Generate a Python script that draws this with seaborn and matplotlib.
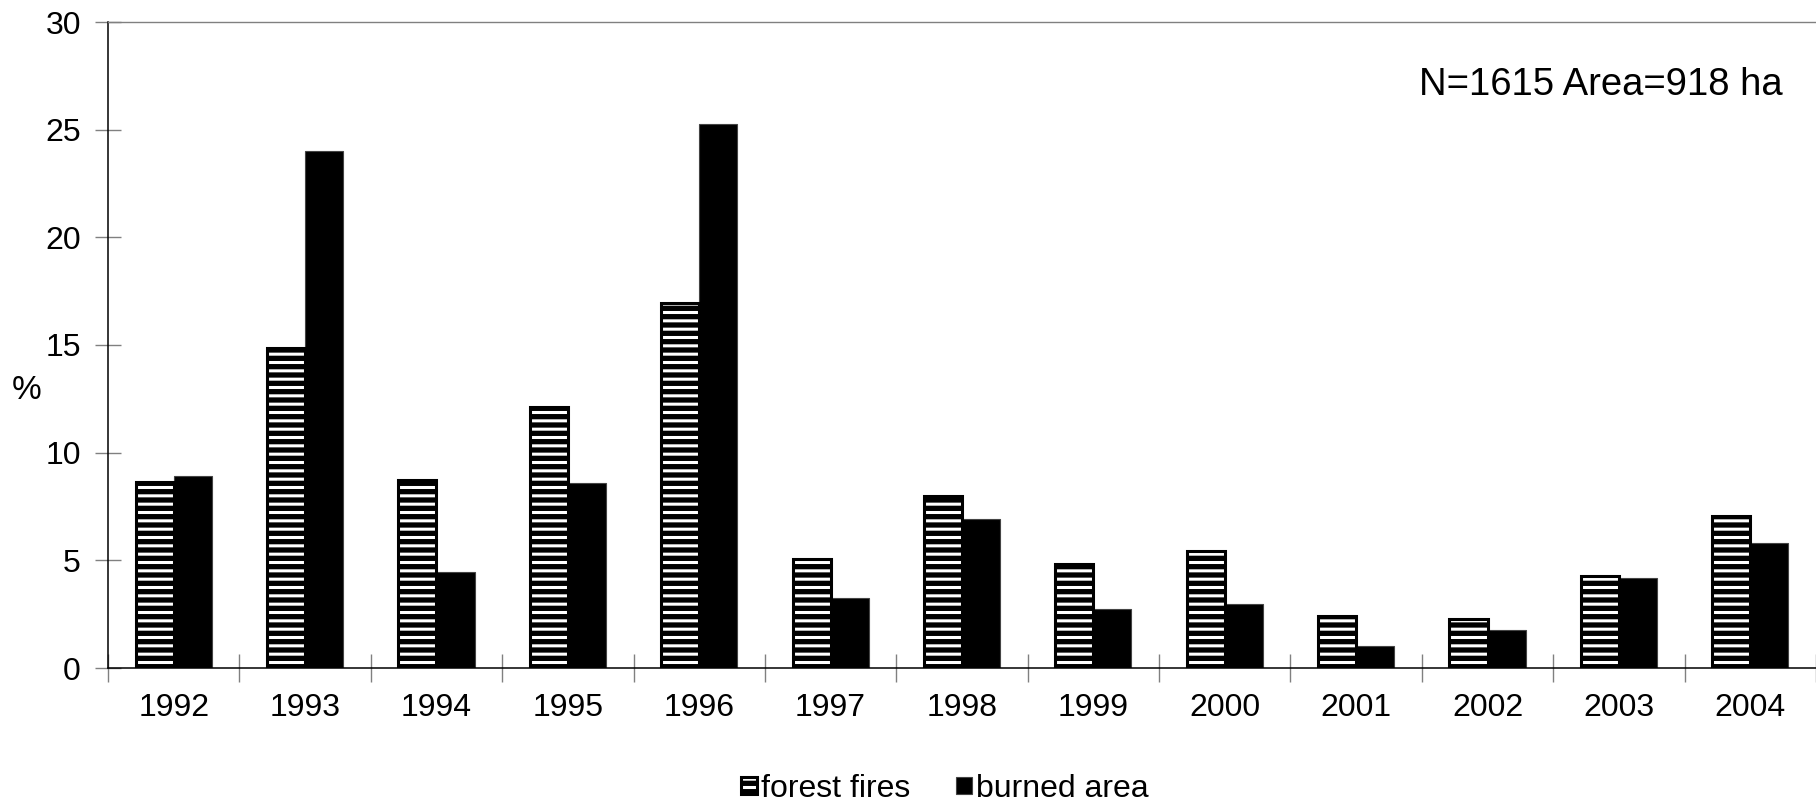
import matplotlib
matplotlib.use('Agg')
import matplotlib.pyplot as plt
import numpy as np
import pandas as pd
import seaborn as sns
from matplotlib.patches import Rectangle, Patch

# Data
years = ['1992', '1993', '1994', '1995', '1996', '1997', '1998',
         '1999', '2000', '2001', '2002', '2003', '2004']
forest_fires = [8.65, 14.84, 8.74, 12.12, 16.94, 5.07, 7.98,
                4.82, 5.42, 2.40, 2.26, 4.26, 7.05]
burned_area = [8.93, 24.00, 4.47, 8.60, 25.26, 3.24, 6.94,
               2.76, 2.98, 1.00, 1.75, 4.19, 5.80]
series = ['forest fires', 'burned area']
y_ticks = [0, 5, 10, 15, 20, 25, 30]
note = 'N=1615 Area=918 ha'

df = pd.DataFrame({
    'year': years + years,
    'series': [series[0]] * len(years) + [series[1]] * len(years),
    'value': forest_fires + burned_area,
})

sns.set_style('white')
plt.rcParams['font.family'] = ['Liberation Sans', 'DejaVu Sans']
plt.rcParams['text.color'] = 'black'
plt.rcParams['axes.labelcolor'] = 'black'
plt.rcParams['hatch.linewidth'] = 2.2

fig = plt.figure(figsize=(18.16, 8.05), dpi=100)
ax = fig.add_axes([108 / 1816, 137 / 805, 1708 / 1816, 646 / 805])

sns.barplot(data=df, x='year', y='value', hue='series', hue_order=series,
            palette=['black', 'black'], saturation=1, width=0.58, gap=0,
            errorbar=None, legend=False, ax=ax)

# forest fires: black bars with thin white stripes and a black outline
for bar in ax.containers[0]:
    bar.set_hatch('--')
    bar.set_edgecolor('white')
    bar.set_linewidth(0)
    ax.add_patch(Rectangle((bar.get_x(), bar.get_y()), bar.get_width(),
                           bar.get_height(), fill=False, edgecolor='black',
                           linewidth=2.2, zorder=bar.get_zorder() + 0.1))
for bar in ax.containers[1]:
    bar.set_edgecolor('#444444')
    bar.set_linewidth(0.8)

ax.set_xlim(-0.5, len(years) - 0.5)
ax.set_ylim(0, 30)
ax.set_yticks(y_ticks)
ax.set_xticks(np.arange(-0.5, len(years)), minor=True)
ax.set_xlabel('')
ax.set_ylabel('%', rotation=0, fontsize=24, ha='center', va='center')
ax.yaxis.set_label_coords(-0.0476, 0.43)

ax.tick_params(axis='x', which='major', bottom=True, length=0, pad=18,
               labelsize=23, labelcolor='black')
ax.tick_params(axis='x', which='minor', bottom=True, direction='inout',
               length=20, width=1, color='#808080')
ax.tick_params(axis='y', left=True, direction='inout', length=19, width=1,
               color='#808080', pad=10, labelsize=23, labelcolor='black')

ax.spines['right'].set_visible(False)
ax.spines['top'].set_color('#808080')
ax.spines['top'].set_linewidth(1)
ax.spines['left'].set_color('black')
ax.spines['bottom'].set_color('black')
ax.spines['left'].set_linewidth(1.1)
ax.spines['bottom'].set_linewidth(1.1)

fig.text(1783 / 1816, 1 - 95 / 805, note, ha='right', va='baseline',
         fontsize=27.5, color='black')

ff_handle = (Patch(facecolor='black', edgecolor='white', hatch='--', linewidth=0),
             Patch(fill=False, edgecolor='black', linewidth=2.2))
ba_handle = Patch(facecolor='black', edgecolor='#444444', linewidth=0.8)
fig.legend(handles=[ff_handle, ba_handle], labels=series,
           loc='center', bbox_to_anchor=(945 / 1816, 1 - 789 / 805), ncol=2,
           frameon=False, fontsize=23, handlelength=0.5, handleheight=0.45,
           handletextpad=0.12, columnspacing=1.45, borderpad=0)

fig.savefig('out.png', dpi=100)
